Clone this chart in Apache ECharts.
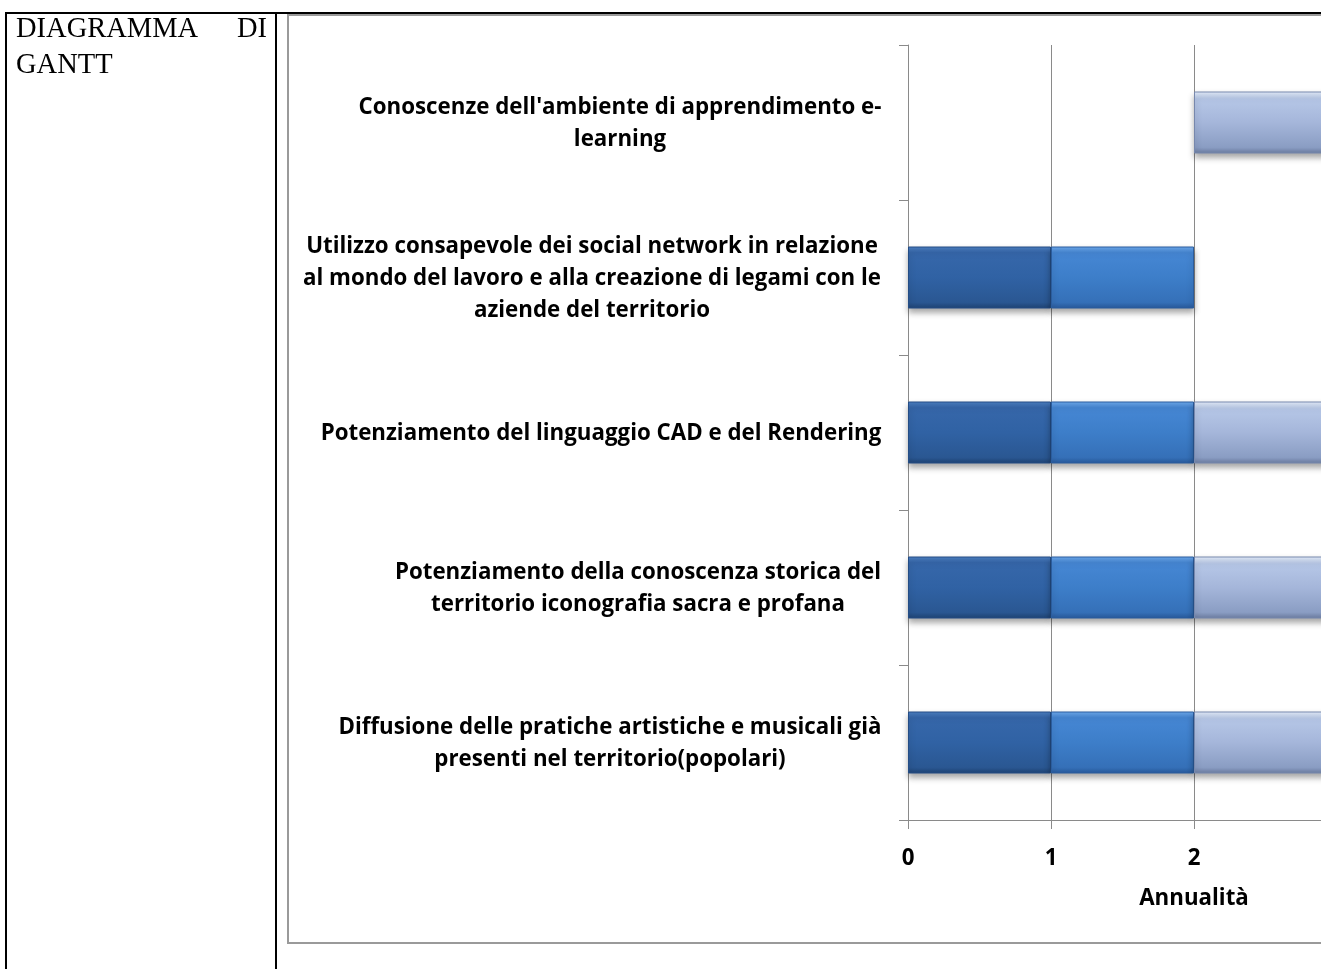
<!DOCTYPE html>
<html><head><meta charset="utf-8">
<script src="https://cdn.jsdelivr.net/npm/echarts@6/dist/echarts.min.js"></script>
<style>html,body{margin:0;padding:0;background:#fff;overflow:hidden;width:1321px;height:969px}#c{width:1500px;height:969px}</style>
</head><body><div id="c"></div>
<script>
// ---- data ----
const categories = [
  "Diffusione delle pratiche artistiche e musicali già\npresenti nel territorio(popolari)",
  "Potenziamento della conoscenza storica del\nterritorio iconografia sacra e profana",
  "Potenziamento del linguaggio CAD e del Rendering",
  "Utilizzo consapevole dei social network in relazione\nal mondo del lavoro e alla creazione di legami con le\naziende del territorio",
  "Conoscenze dell'ambiente di apprendimento e-\nlearning"
];
const startOffset = [0, 0, 0, 0, 2];
const year1 = [1, 1, 1, 1, '-'];
const year2 = [1, 1, 1, 1, '-'];
const year3 = [1, 1, 1, '-', 1];
const xMin = 0, xMax = 4, xStep = 1;
const axisTitle = "Annualità";
const leftTitle = ["DIAGRAMMA", "DI", "GANTT"];

// ---- styles ----
const LF = '"Open Sans"', LS = 22.3;
const ctx = document.createElement('canvas').getContext('2d');
ctx.font = 'bold ' + LS + 'px ' + LF;
const rich = {};
categories.forEach((c, i) => {
  const w = Math.max(...c.split('\n').map(s => ctx.measureText(s).width));
  rich['l' + i] = {width: Math.ceil(w) + 1, align: 'center', fontFamily: LF, fontSize: LS, fontWeight: 'bold', lineHeight: 32, color: '#000'};
});

function grad(stops) {
  return new echarts.graphic.LinearGradient(0, 0, 0, 1, stops.map(c => ({offset: c[0], color: c[1]})));
}
const cDark = grad([[0,'#4D80C2'],[0.1,'#3667AA'],[0.5,'#3062A4'],[0.9,'#2A5792'],[1,'#1F4374']]);
const cMid = grad([[0,'#6FAAEE'],[0.1,'#4687D4'],[0.5,'#3D7EC9'],[0.9,'#3570B8'],[1,'#28599A']]);
const cLight = grad([[0,'#E6EFFC'],[0.12,'#B6C7E7'],[0.5,'#A5B6DA'],[0.9,'#8A9DC3'],[1,'#6B7CA0']]);
const shadow = {shadowColor: 'rgba(0,0,0,0.35)', shadowBlur: 6, shadowOffsetY: 4};

const chart = echarts.init(document.getElementById('c'), null, {renderer: 'canvas', width: 1500, height: 969});
chart.setOption({
  animation: false,
  backgroundColor: '#fff',
  grid: {left: 908, top: 45, bottom: 149, right: 20, containLabel: false},
  xAxis: {
    type: 'value', min: xMin, max: xMax, interval: xStep,
    axisLine: {show: true, lineStyle: {color: '#8a8a8a', width: 1}},
    axisTick: {show: true, length: 9, lineStyle: {color: '#8a8a8a'}},
    splitLine: {show: true, lineStyle: {color: '#8a8a8a', width: 1}},
    axisLabel: {margin: 28, color: '#000', fontFamily: LF, fontSize: LS, fontWeight: 'bold'},
    name: axisTitle, nameLocation: 'middle', nameGap: 68,
    nameTextStyle: {color: '#000', fontFamily: LF, fontSize: LS, fontWeight: 'bold'}
  },
  yAxis: {
    type: 'category', data: categories,
    axisLine: {show: true, lineStyle: {color: '#8a8a8a', width: 1}},
    axisTick: {show: true, length: 9, lineStyle: {color: '#8a8a8a'}},
    splitLine: {show: false},
    axisLabel: {
      interval: 0, margin: 26, align: 'right', color: '#000',
      fontFamily: LF, fontSize: LS, fontWeight: 'bold', lineHeight: 32,
      padding: [3, 0, 0, 0],
      formatter: (v, i) => v.split('\n').map(s => '{l' + i + '|' + s + '}').join('\n'),
      rich: rich
    }
  },
  series: [
    {name: 'inizio', type: 'bar', stack: 'g', data: startOffset, barWidth: '40%',
     itemStyle: {color: 'transparent'}, silent: true},
    {name: 'Anno 1', type: 'bar', stack: 'g', data: year1,
     itemStyle: Object.assign({color: cDark, borderColor: '#244D85', borderWidth: 1}, shadow)},
    {name: 'Anno 2', type: 'bar', stack: 'g', data: year2,
     itemStyle: Object.assign({color: cMid, borderColor: '#2B5D9E', borderWidth: 1}, shadow)},
    {name: 'Anno 3', type: 'bar', stack: 'g', data: year3,
     itemStyle: Object.assign({color: cLight, borderColor: '#7788AD', borderWidth: 1}, shadow)}
  ],
  graphic: [
    {type: 'rect', shape: {x: 288, y: 15, width: 1300, height: 928}, style: {fill: 'none', stroke: '#9a9a9a', lineWidth: 2}},
    {type: 'line', shape: {x1: 5, y1: 13, x2: 1500, y2: 13}, style: {stroke: '#000', lineWidth: 2}},
    {type: 'line', shape: {x1: 6, y1: 12, x2: 6, y2: 969}, style: {stroke: '#000', lineWidth: 2}},
    {type: 'line', shape: {x1: 276, y1: 12, x2: 276, y2: 969}, style: {stroke: '#000', lineWidth: 2}},
    {type: 'text', style: {text: leftTitle[0], x: 16, y: 30, font: '28.5px "Liberation Serif"', verticalAlign: 'middle', fill: '#000'}},
    {type: 'text', style: {text: leftTitle[1], x: 267, y: 30, align: 'right', font: '28.5px "Liberation Serif"', verticalAlign: 'middle', fill: '#000'}},
    {type: 'text', style: {text: leftTitle[2], x: 16, y: 66, font: '28.5px "Liberation Serif"', verticalAlign: 'middle', fill: '#000'}}
  ]
});
</script></body></html>
